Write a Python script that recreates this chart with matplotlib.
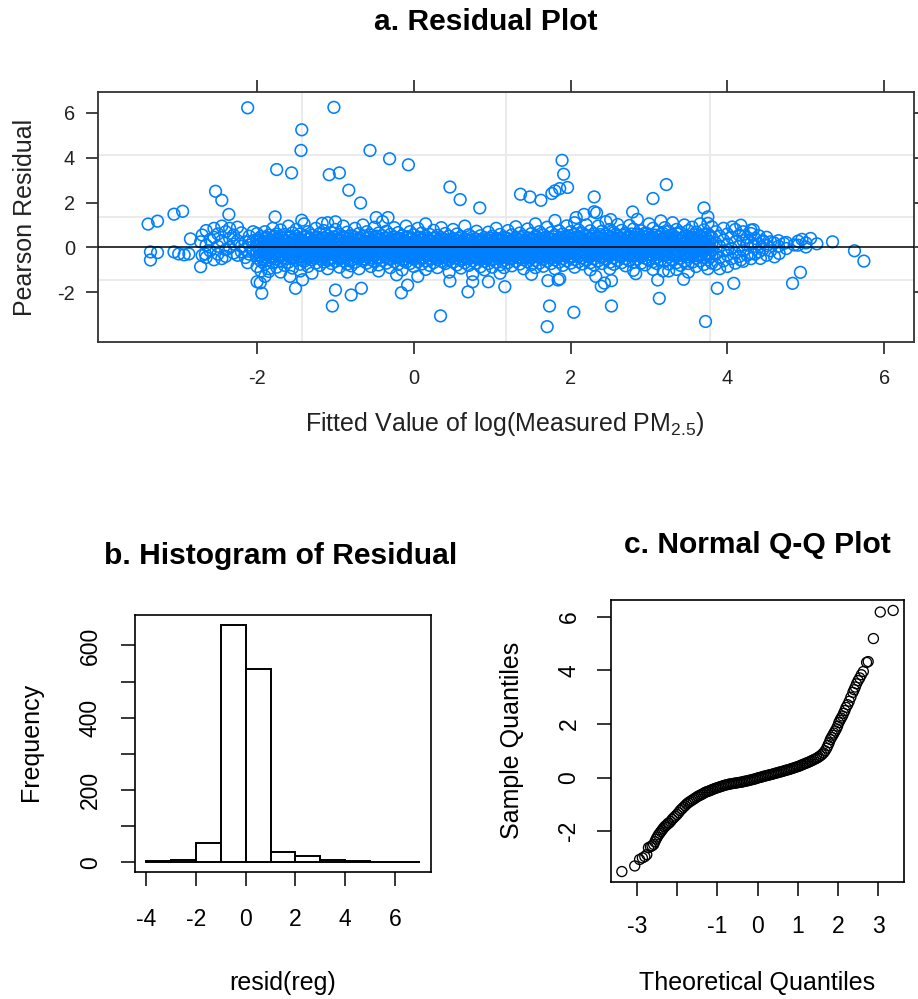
import matplotlib.pyplot as plt
import numpy as np

plt.rcParams["font.family"] = ["Liberation Sans", "DejaVu Sans"]
plt.rcParams["mathtext.fontset"] = "custom"
plt.rcParams["mathtext.rm"] = "Liberation Sans"
plt.rcParams["mathtext.it"] = "Liberation Sans:italic"
plt.rcParams["axes.unicode_minus"] = False

# a. Residual plot -- isolated points
outlier_fitted = [
    -2.12, -1.02, -1.43, -1.44, -1.75, -1.56, -1.08, -0.95, -0.56, -0.31, -0.07, -0.83, -0.68,
    -2.53, -2.45, -2.36, -3.39, -3.27, -3.06, -2.95, -2.85, -2.72, -3.36, -3.36, -3.27, -3.06,
    -3.00, -2.93, -2.87, -2.72, -2.66, -2.12, -2.00, -1.94, -1.96, -1.90, -1.85, -1.77, -1.58,
    -1.51, -1.42, -1.00, -1.04, -0.80, -0.67, -0.16, -0.08, 0.05, -0.22, 0.34, 0.46, 0.59,
    0.46, -0.48, -0.33, -1.00, -1.17, -1.43,
    1.89, 1.91, 1.96, 1.86, 1.80, 1.76, 1.62, 1.48, 1.36, 2.30, 3.05, 3.22, 3.70, 3.75, 3.75,
    2.79, 2.30, 2.33, 2.17, 2.07, 2.51, 0.84,
    5.34, 5.62, 5.74, 4.83, 4.93, 4.08, 3.87, 3.72, 3.13, 3.11, 3.44, 2.52, 2.04, 1.73, 1.70,
    1.71, 1.84, 1.86, 1.16, 0.95, 0.69, 0.75, 2.32, 2.43, 2.52, 2.39, 1.50, 2.83, 3.18, 3.35,
    4.30, 4.17, 5.06, 4.95, 5.14, 4.85, 4.72, 4.59, 4.46, 4.42, 4.60, 4.66, 4.30, 4.00, 4.17,
    4.06, 4.33,
]
outlier_resid = [
    6.22, 6.24, 5.24, 4.32, 3.47, 3.32, 3.24, 3.32, 4.32, 3.95, 3.68, 2.55, 1.98,
    2.50, 2.10, 1.47, 1.04, 1.17, 1.48, 1.61, 0.38, 0.25, -0.20, -0.56, -0.23, -0.20,
    -0.29, -0.33, -0.29, -0.86, -0.29, -0.68, -1.53, -2.04, -1.58, -1.29, -1.07, 1.36, -1.29,
    -1.82, -1.44, -1.90, -2.61, -2.12, -1.82, -2.02, -1.68, -1.29, -1.22, -3.05, 2.69, 2.13,
    -1.50, 1.33, 1.33, 1.14, 1.07, 1.21,
    3.88, 3.26, 2.67, 2.62, 2.52, 2.40, 2.10, 2.25, 2.37, 2.25, 2.18, 2.80, 1.76, 1.36, 1.07,
    1.58, 1.59, 1.54, 1.47, 1.33, 1.24, 1.76,
    0.25, -0.15, -0.61, -1.60, -1.11, -1.60, -1.82, -3.30, -2.27, -1.45, -1.42, -2.61, -2.89, -2.61, -3.53,
    -1.48, -1.45, -1.40, -1.75, -1.53, -1.98, -1.53, -1.29, -1.59, -1.48, -1.73, -1.20, -1.17, -1.05, -0.98,
    0.77, 0.99, 0.40, 0.36, 0.16, 0.11, 0.18, 0.21, 0.25, -0.49, -0.42, -0.27, -0.27, -0.12, -0.56,
    0.91, 0.79,
]

# a. Residual plot -- dense band: fitted value, residuals seen at that value
band_columns = [
    (-2.70, [0.55, -0.35]), (-2.65, [0.75, 0.10, -0.45]), (-2.60, [0.35, -0.15]),
    (-2.55, [0.85, 0.45, -0.55]), (-2.50, [0.60, 0.05, -0.30]), (-2.45, [0.95, 0.30, -0.50]),
    (-2.40, [0.70, -0.10, -0.40]), (-2.35, [0.85, 0.40, 0.00]), (-2.30, [0.55, 0.15, -0.25]),
    (-2.25, [0.90, 0.30, -0.35]), (-2.20, [0.65, 0.05, -0.20]), (-2.15, [0.25, -0.10, -0.45]),
    (-2.10, [0.50, 0.10, -0.30]), (-2.05, [0.70, 0.30, -0.15]),
    (-2.00, [0.62, 0.31, 0.05, -0.22, -0.48, -0.85]),
    (-1.95, [0.48, 0.18, -0.10, -0.35, -0.62, -1.05]),
    (-1.90, [0.70, 0.40, 0.12, -0.15, -0.42, -0.75]),
    (-1.85, [0.55, 0.25, -0.02, -0.28, -0.55, -0.95]),
    (-1.80, [0.85, 0.45, 0.15, -0.12, -0.38, -0.68]),
    (-1.75, [0.60, 0.30, 0.02, -0.25, -0.52, -0.88]),
    (-1.70, [0.78, 0.48, 0.20, -0.08, -0.33, -0.62, -1.10]),
    (-1.65, [0.58, 0.28, 0.00, -0.20, -0.45, -0.80]),
    (-1.60, [0.95, 0.42, 0.14, -0.12, -0.38, -0.66]),
    (-1.55, [0.65, 0.32, 0.06, -0.18, -0.50, -0.92]),
    (-1.50, [0.80, 0.50, 0.22, -0.05, -0.30, -0.58]),
    (-1.45, [0.60, 0.35, 0.10, -0.15, -0.42, -0.75, -1.05]),
    (-1.40, [1.05, 0.45, 0.18, -0.08, -0.34, -0.62]),
    (-1.35, [0.70, 0.38, 0.08, -0.20, -0.48, -0.85]),
    (-1.30, [0.55, 0.26, 0.00, -0.26, -0.55, -1.15]),
    (-1.25, [0.85, 0.45, 0.16, -0.10, -0.38, -0.70]),
    (-1.20, [0.62, 0.33, 0.05, -0.22, -0.50, -0.80]),
    (-1.15, [0.75, 0.42, 0.12, -0.14, -0.40, -0.65]),
    (-1.10, [1.10, 0.52, 0.22, -0.04, -0.30, -0.58, -0.95]),
    (-1.05, [0.66, 0.35, 0.08, -0.18, -0.45, -0.72]),
    (-1.00, [0.80, 0.46, 0.17, -0.10, -0.36, -0.62]),
    (-0.95, [0.58, 0.30, 0.03, -0.24, -0.52, -0.88]),
    (-0.90, [0.95, 0.48, 0.20, -0.06, -0.32, -0.60]),
    (-0.85, [0.68, 0.38, 0.10, -0.16, -0.44, -0.75, -1.10]),
    (-0.80, [0.52, 0.25, -0.02, -0.28, -0.56, -0.82]),
    (-0.75, [0.85, 0.44, 0.15, -0.12, -0.38, -0.66]),
    (-0.70, [0.62, 0.32, 0.06, -0.20, -0.48, -0.95]),
    (-0.65, [1.00, 0.50, 0.20, -0.06, -0.34, -0.60]),
    (-0.60, [0.70, 0.40, 0.12, -0.14, -0.42, -0.70]),
    (-0.55, [0.55, 0.28, 0.00, -0.26, -0.54, -0.85]),
    (-0.50, [0.90, 0.46, 0.18, -0.08, -0.36, -0.64]),
    (-0.45, [0.64, 0.34, 0.07, -0.20, -0.46, -0.78, -1.05]),
    (-0.40, [1.15, 0.52, 0.22, -0.04, -0.30, -0.58]),
    (-0.35, [0.72, 0.40, 0.12, -0.15, -0.42, -0.70]),
    (-0.30, [0.58, 0.30, 0.03, -0.24, -0.52, -0.90]),
    (-0.25, [0.88, 0.46, 0.17, -0.10, -0.37, -0.64]),
    (-0.20, [0.66, 0.36, 0.08, -0.18, -0.46, -0.75]),
    (-0.15, [0.52, 0.26, -0.02, -0.28, -0.56, -1.00]),
    (-0.10, [0.95, 0.44, 0.15, -0.12, -0.38, -0.66]),
    (-0.05, [0.70, 0.38, 0.10, -0.16, -0.44, -0.72]),
    (0.00, [0.56, 0.28, 0.02, -0.25, -0.52, -0.85]),
    (0.05, [0.85, 0.42, 0.14, -0.12, -0.38, -0.64]),
    (0.10, [0.64, 0.34, 0.06, -0.20, -0.46, -0.74]),
    (0.15, [1.05, 0.50, 0.20, -0.06, -0.32, -0.60, -0.98]),
    (0.20, [0.58, 0.30, 0.04, -0.22, -0.50, -0.80]),
    (0.25, [0.76, 0.40, 0.12, -0.14, -0.40, -0.68]),
    (0.30, [0.54, 0.26, 0.00, -0.26, -0.54, -0.90]),
    (0.35, [0.88, 0.44, 0.16, -0.10, -0.36, -0.62]),
    (0.40, [0.62, 0.34, 0.08, -0.18, -0.44, -0.72]),
    (0.45, [0.50, 0.24, -0.02, -0.28, -0.56, -1.10]),
    (0.50, [0.80, 0.40, 0.13, -0.13, -0.40, -0.66]),
    (0.55, [0.60, 0.31, 0.05, -0.21, -0.48, -0.78]),
    (0.60, [0.48, 0.22, -0.04, -0.30, -0.58, -0.92]),
    (0.65, [0.95, 0.38, 0.11, -0.15, -0.42, -0.68]),
    (0.70, [0.56, 0.28, 0.02, -0.24, -0.50, -0.80]),
    (0.75, [0.45, 0.20, -0.06, -0.32, -0.60, -1.20]),
    (0.80, [0.72, 0.36, 0.09, -0.17, -0.44, -0.70]),
    (0.85, [0.52, 0.26, 0.00, -0.26, -0.54, -0.86]),
    (0.90, [0.44, 0.18, -0.07, -0.34, -0.62, -1.00]),
    (0.95, [0.68, 0.34, 0.08, -0.18, -0.45, -0.72]),
    (1.00, [0.50, 0.24, -0.01, -0.27, -0.55, -0.88]),
    (1.05, [0.85, 0.40, 0.13, -0.13, -0.40, -0.66]),
    (1.10, [0.58, 0.30, 0.04, -0.22, -0.48, -0.78, -1.15]),
    (1.15, [0.46, 0.20, -0.05, -0.31, -0.58, -0.90]),
    (1.20, [0.75, 0.38, 0.11, -0.15, -0.42, -0.68]),
    (1.25, [0.56, 0.28, 0.02, -0.24, -0.50, -0.82]),
    (1.30, [0.92, 0.44, 0.16, -0.10, -0.36, -0.62]),
    (1.35, [0.64, 0.34, 0.07, -0.19, -0.46, -0.74]),
    (1.40, [0.50, 0.24, -0.02, -0.28, -0.55, -0.95]),
    (1.45, [0.82, 0.42, 0.14, -0.12, -0.38, -0.64]),
    (1.50, [0.62, 0.33, 0.06, -0.20, -0.47, -0.76]),
    (1.55, [1.05, 0.50, 0.20, -0.06, -0.32, -0.58, -0.90]),
    (1.60, [0.70, 0.38, 0.10, -0.16, -0.43, -0.70]),
    (1.65, [0.56, 0.28, 0.01, -0.25, -0.52, -0.84]),
    (1.70, [0.90, 0.46, 0.17, -0.09, -0.35, -0.62]),
    (1.75, [0.66, 0.36, 0.08, -0.18, -0.45, -0.72]),
    (1.80, [1.20, 0.55, 0.24, -0.03, -0.29, -0.56, -0.95]),
    (1.85, [0.74, 0.40, 0.12, -0.14, -0.40, -0.66]),
    (1.90, [0.60, 0.30, 0.03, -0.23, -0.50, -0.80]),
    (1.95, [0.96, 0.48, 0.19, -0.07, -0.33, -0.60]),
    (2.00, [0.70, 0.38, 0.10, -0.16, -0.42, -0.70]),
    (2.05, [1.10, 0.58, 0.26, -0.01, -0.27, -0.54, -0.88]),
    (2.10, [0.78, 0.44, 0.15, -0.11, -0.37, -0.64]),
    (2.15, [0.64, 0.34, 0.06, -0.20, -0.46, -0.74]),
    (2.20, [1.00, 0.52, 0.22, -0.05, -0.31, -0.58]),
    (2.25, [0.74, 0.40, 0.12, -0.14, -0.40, -0.68, -1.00]),
    (2.30, [0.60, 0.30, 0.03, -0.23, -0.50, -0.78]),
    (2.35, [0.95, 0.48, 0.18, -0.08, -0.34, -0.60]),
    (2.40, [0.72, 0.38, 0.10, -0.16, -0.43, -0.72]),
    (2.45, [1.15, 0.58, 0.26, -0.01, -0.27, -0.54]),
    (2.50, [0.80, 0.44, 0.15, -0.11, -0.37, -0.66, -0.95]),
    (2.55, [0.66, 0.34, 0.06, -0.20, -0.46, -0.75]),
    (2.60, [1.02, 0.52, 0.22, -0.05, -0.31, -0.58]),
    (2.65, [0.76, 0.40, 0.12, -0.14, -0.40, -0.68]),
    (2.70, [0.62, 0.30, 0.03, -0.23, -0.50, -0.82]),
    (2.75, [0.98, 0.50, 0.19, -0.07, -0.33, -0.60]),
    (2.80, [0.82, 0.44, 0.14, -0.12, -0.38, -0.65, -1.02]),
    (2.85, [1.25, 0.60, 0.27, 0.00, -0.26, -0.52]),
    (2.90, [0.74, 0.38, 0.10, -0.16, -0.42, -0.70]),
    (2.95, [0.64, 0.32, 0.04, -0.22, -0.48, -0.78]),
    (3.00, [1.05, 0.55, 0.22, -0.05, -0.31, -0.58]),
    (3.05, [0.85, 0.46, 0.15, -0.11, -0.37, -0.64, -0.98]),
    (3.10, [0.70, 0.36, 0.08, -0.18, -0.44, -0.72]),
    (3.15, [1.18, 0.58, 0.25, -0.02, -0.28, -0.55]),
    (3.20, [0.88, 0.46, 0.16, -0.10, -0.36, -0.62]),
    (3.25, [0.72, 0.38, 0.09, -0.17, -0.43, -0.74, -1.05]),
    (3.30, [1.10, 0.55, 0.22, -0.05, -0.31, -0.58]),
    (3.35, [0.80, 0.42, 0.13, -0.13, -0.40, -0.68]),
    (3.40, [0.66, 0.33, 0.05, -0.21, -0.48, -0.80]),
    (3.45, [1.00, 0.50, 0.19, -0.08, -0.34, -0.62]),
    (3.50, [0.75, 0.40, 0.11, -0.15, -0.42, -0.72, -1.10]),
    (3.55, [0.90, 0.46, 0.16, -0.10, -0.38, -0.66]),
    (3.60, [0.68, 0.34, 0.06, -0.20, -0.48, -0.85]),
    (3.65, [1.05, 0.52, 0.20, -0.06, -0.34, -0.60]),
    (3.70, [0.78, 0.40, 0.10, -0.16, -0.44, -0.76]),
    (3.75, [0.60, 0.28, 0.00, -0.26, -0.55, -0.95]),
    (3.80, [0.92, 0.45, 0.14, -0.12, -0.40, -0.70]),
    (3.85, [0.70, 0.20, -0.30, -0.75]), (3.90, [0.50, 0.05, -0.45, -0.95]),
    (3.95, [0.85, 0.32, -0.15, -0.60]), (4.00, [0.60, 0.15, -0.35, -0.85]),
    (4.05, [0.45, -0.05, -0.50]), (4.10, [0.80, 0.25, -0.25, -0.70]),
    (4.15, [0.55, 0.05, -0.40]), (4.20, [0.70, 0.30, -0.15, -0.62]),
    (4.25, [0.45, 0.10, -0.35]), (4.30, [0.62, 0.20, -0.50]),
    (4.35, [0.40, 0.05, -0.30]), (4.40, [0.52, 0.15, -0.20]),
    (4.45, [0.30, -0.10]), (4.50, [0.45, 0.08, -0.35]), (4.55, [0.25, -0.15]),
    (4.65, [0.30, 0.05]), (4.75, [0.22, -0.05]), (4.90, [0.28, 0.10]), (5.00, [0.20, 0.02]),
]

# a. Residual plot -- core of the band, between the columns above
core_columns = [
    (-1.975, [0.40, 0.14, -0.12, -0.38]), (-1.925, [0.28, 0.02, -0.26, -0.52]),
    (-1.875, [0.44, 0.18, -0.08, -0.34]), (-1.825, [0.32, 0.06, -0.20, -0.46]),
    (-1.775, [0.50, 0.22, -0.04, -0.30]), (-1.725, [0.36, 0.10, -0.16, -0.44]),
    (-1.675, [0.42, 0.15, -0.10, -0.36]), (-1.625, [0.30, 0.04, -0.24, -0.50]),
    (-1.575, [0.46, 0.20, -0.06, -0.32]), (-1.525, [0.34, 0.08, -0.18, -0.45]),
    (-1.475, [0.40, 0.13, -0.13, -0.40]), (-1.425, [0.27, 0.01, -0.27, -0.54]),
    (-1.375, [0.48, 0.21, -0.05, -0.31]), (-1.325, [0.38, 0.11, -0.15, -0.42]),
    (-1.275, [0.31, 0.05, -0.22, -0.48]), (-1.225, [0.45, 0.19, -0.07, -0.33]),
    (-1.175, [0.35, 0.09, -0.17, -0.44]), (-1.125, [0.41, 0.14, -0.11, -0.37]),
    (-1.075, [0.29, 0.03, -0.25, -0.51]), (-1.025, [0.47, 0.20, -0.06, -0.32]),
    (-0.975, [0.37, 0.11, -0.16, -0.43]), (-0.925, [0.33, 0.07, -0.19, -0.46]),
    (-0.875, [0.44, 0.17, -0.09, -0.35]), (-0.825, [0.30, 0.04, -0.23, -0.50]),
    (-0.775, [0.49, 0.22, -0.04, -0.30]), (-0.725, [0.36, 0.10, -0.17, -0.44]),
    (-0.675, [0.40, 0.14, -0.12, -0.38]), (-0.625, [0.28, 0.02, -0.26, -0.52]),
    (-0.575, [0.44, 0.18, -0.08, -0.34]), (-0.525, [0.32, 0.06, -0.20, -0.46]),
    (-0.475, [0.50, 0.22, -0.04, -0.30]), (-0.425, [0.36, 0.10, -0.16, -0.44]),
    (-0.375, [0.42, 0.15, -0.10, -0.36]), (-0.325, [0.30, 0.04, -0.24, -0.50]),
    (-0.275, [0.46, 0.20, -0.06, -0.32]), (-0.225, [0.34, 0.08, -0.18, -0.45]),
    (-0.175, [0.40, 0.13, -0.13, -0.40]), (-0.125, [0.27, 0.01, -0.27, -0.54]),
    (-0.075, [0.48, 0.21, -0.05, -0.31]), (-0.025, [0.38, 0.11, -0.15, -0.42]),
    (0.025, [0.31, 0.05, -0.22, -0.48]), (0.075, [0.45, 0.19, -0.07, -0.33]),
    (0.125, [0.35, 0.09, -0.17, -0.44]), (0.175, [0.41, 0.14, -0.11, -0.37]),
    (0.225, [0.29, 0.03, -0.25, -0.51]), (0.275, [0.43, 0.17, -0.09, -0.35]),
    (0.325, [0.33, 0.07, -0.19, -0.46]), (0.375, [0.38, 0.12, -0.14, -0.40]),
    (0.425, [0.28, 0.02, -0.24, -0.50]), (0.475, [0.36, 0.10, -0.16, -0.42]),
    (0.525, [0.30, 0.05, -0.21, -0.47]), (0.575, [0.40, 0.14, -0.12, -0.38]),
    (0.625, [0.27, 0.01, -0.26, -0.52]), (0.675, [0.35, 0.09, -0.17, -0.43]),
    (0.725, [0.31, 0.05, -0.21, -0.47]), (0.775, [0.38, 0.12, -0.14, -0.40]),
    (0.825, [0.28, 0.03, -0.23, -0.49]), (0.875, [0.36, 0.10, -0.16, -0.42]),
    (0.925, [0.30, 0.05, -0.21, -0.46]), (0.975, [0.40, 0.14, -0.12, -0.38]),
    (1.025, [0.29, 0.03, -0.24, -0.50]), (1.075, [0.37, 0.11, -0.15, -0.41]),
    (1.125, [0.32, 0.06, -0.20, -0.46]), (1.175, [0.42, 0.16, -0.10, -0.36]),
    (1.225, [0.30, 0.04, -0.22, -0.48]), (1.275, [0.39, 0.13, -0.13, -0.39]),
    (1.325, [0.34, 0.08, -0.18, -0.44]), (1.375, [0.44, 0.18, -0.08, -0.34]),
    (1.425, [0.31, 0.05, -0.21, -0.47]), (1.475, [0.41, 0.15, -0.11, -0.37]),
    (1.525, [0.36, 0.10, -0.16, -0.42]), (1.575, [0.46, 0.20, -0.06, -0.32]),
    (1.625, [0.33, 0.07, -0.19, -0.45]), (1.675, [0.43, 0.17, -0.09, -0.35]),
    (1.725, [0.38, 0.12, -0.14, -0.40]), (1.775, [0.48, 0.22, -0.04, -0.30]),
    (1.825, [0.35, 0.09, -0.17, -0.43]), (1.875, [0.45, 0.19, -0.07, -0.33]),
    (1.925, [0.40, 0.14, -0.12, -0.38]), (1.975, [0.52, 0.25, -0.02, -0.28]),
    (2.025, [0.37, 0.11, -0.15, -0.41]), (2.075, [0.47, 0.21, -0.05, -0.31]),
    (2.125, [0.42, 0.16, -0.10, -0.36]), (2.175, [0.55, 0.28, 0.01, -0.26]),
    (2.225, [0.39, 0.13, -0.13, -0.39]), (2.275, [0.49, 0.23, -0.03, -0.29]),
    (2.325, [0.44, 0.18, -0.08, -0.34]), (2.375, [0.57, 0.30, 0.03, -0.24]),
    (2.425, [0.41, 0.15, -0.11, -0.37]), (2.475, [0.51, 0.25, -0.01, -0.27]),
    (2.525, [0.46, 0.20, -0.06, -0.32]), (2.575, [0.58, 0.31, 0.04, -0.23]),
    (2.625, [0.43, 0.17, -0.09, -0.35]), (2.675, [0.53, 0.27, 0.01, -0.25]),
    (2.725, [0.47, 0.21, -0.05, -0.31]), (2.775, [0.60, 0.33, 0.06, -0.21]),
    (2.825, [0.44, 0.18, -0.08, -0.34]), (2.875, [0.54, 0.28, 0.02, -0.24]),
    (2.925, [0.48, 0.22, -0.04, -0.30]), (2.975, [0.62, 0.35, 0.08, -0.19]),
    (3.025, [0.45, 0.19, -0.07, -0.33]), (3.075, [0.55, 0.29, 0.03, -0.23]),
    (3.125, [0.49, 0.23, -0.03, -0.29]), (3.175, [0.63, 0.36, 0.09, -0.18]),
    (3.225, [0.44, 0.18, -0.08, -0.34]), (3.275, [0.54, 0.28, 0.02, -0.24]),
    (3.325, [0.47, 0.21, -0.05, -0.31]), (3.375, [0.60, 0.33, 0.06, -0.21]),
    (3.425, [0.42, 0.16, -0.10, -0.36]), (3.475, [0.51, 0.25, -0.01, -0.27]),
    (3.525, [0.45, 0.19, -0.07, -0.33]), (3.575, [0.56, 0.29, 0.02, -0.25]),
    (3.625, [0.40, 0.14, -0.12, -0.38]), (3.675, [0.48, 0.22, -0.04, -0.30]),
    (3.725, [0.43, 0.17, -0.09, -0.35]), (3.775, [0.52, 0.25, -0.02, -0.28]),
]

# b. Histogram of residual
hist_breaks = [-4, -3, -2, -1, 0, 1, 2, 3, 4, 5, 6, 7]
hist_counts = [4, 8, 53, 658, 536, 30, 17, 8, 3, 1, 2]

# c. Normal Q-Q plot (theoretical quantile, sample quantile)
qq_theoretical = [
    -3.37, -3.05, -2.93, -2.86, -2.80, -2.75, -2.71, -2.66, -2.62, -2.58, -2.55, -2.52, -2.49,
    -2.46, -2.43, -2.40, -2.37, -2.34, -2.31, -2.28, -2.25, -2.22,
    -2.20, -2.16, -2.12, -2.08, -2.04, -2.00, -1.96, -1.92, -1.88, -1.84, -1.80, -1.76, -1.72,
    -1.68, -1.64, -1.60, -1.56, -1.52, -1.48, -1.44, -1.40, -1.36, -1.32, -1.28, -1.24, -1.20,
    -1.16, -1.12, -1.08, -1.04, -1.00, -0.96, -0.92, -0.88, -0.84, -0.80, -0.76, -0.72, -0.68,
    -0.64, -0.60, -0.56, -0.52, -0.48, -0.44, -0.40, -0.36, -0.32, -0.28, -0.24, -0.20, -0.16,
    -0.12, -0.08, -0.04, 0.00, 0.04, 0.08, 0.12, 0.16, 0.20, 0.24, 0.28, 0.32, 0.36, 0.40,
    0.44, 0.48, 0.52, 0.56, 0.60, 0.64, 0.68, 0.72, 0.76, 0.80, 0.84, 0.88, 0.92, 0.96, 1.00,
    1.04, 1.08, 1.12, 1.16, 1.20, 1.24, 1.28, 1.32, 1.36, 1.40, 1.44, 1.48, 1.52, 1.56, 1.60,
    1.64, 1.68, 1.72, 1.75, 1.78, 1.81, 1.84, 1.87, 1.90, 1.93, 1.96, 1.99, 2.02, 2.05, 2.08,
    2.11, 2.14, 2.17, 2.20, 2.24, 2.28, 2.32, 2.37, 2.40, 2.43, 2.46, 2.50, 2.54, 2.58, 2.63,
    2.71, 2.75, 2.88, 3.05, 3.37,
]
qq_sample = [
    -3.51, -3.30, -3.06, -3.00, -2.95, -2.88, -2.62, -2.58, -2.55, -2.50, -2.40, -2.30, -2.22,
    -2.14, -2.08, -2.02, -1.96, -1.90, -1.84, -1.80, -1.76, -1.71,
    -1.70, -1.64, -1.56, -1.50, -1.44, -1.38, -1.31, -1.23, -1.17, -1.11, -1.05, -0.99, -0.94,
    -0.90, -0.86, -0.82, -0.78, -0.74, -0.70, -0.67, -0.64, -0.61, -0.57, -0.54, -0.52, -0.50,
    -0.47, -0.45, -0.42, -0.40, -0.38, -0.36, -0.34, -0.32, -0.30, -0.28, -0.27, -0.25, -0.24,
    -0.23, -0.22, -0.21, -0.20, -0.19, -0.18, -0.17, -0.16, -0.14, -0.13, -0.12, -0.10, -0.09,
    -0.07, -0.06, -0.04, -0.02, 0.00, 0.01, 0.03, 0.05, 0.06, 0.08, 0.09, 0.11, 0.12, 0.14,
    0.16, 0.17, 0.19, 0.21, 0.22, 0.24, 0.26, 0.28, 0.29, 0.31, 0.33, 0.35, 0.37, 0.39, 0.41,
    0.43, 0.46, 0.48, 0.51, 0.53, 0.56, 0.58, 0.61, 0.64, 0.67, 0.70, 0.73, 0.77, 0.81, 0.86,
    0.92, 1.00, 1.10, 1.20, 1.30, 1.42, 1.50, 1.58, 1.66, 1.74, 1.82, 1.92, 2.05, 2.14, 2.22,
    2.30, 2.40, 2.50, 2.62, 2.72, 2.85, 3.00, 3.18, 3.28, 3.38, 3.50, 3.62, 3.72, 3.84, 3.96,
    4.30, 4.33, 5.19, 6.18, 6.24,
]

fitted = list(outlier_fitted)
resid = list(outlier_resid)
for col_x, ys in band_columns + core_columns:
    fitted += [col_x] * len(ys)
    resid += ys
fitted = np.array(fitted)
resid = np.array(resid)

W, H = 918, 999
fig = plt.figure(figsize=(W / 100, H / 100), dpi=100)


def px_box(left, top, right, bottom):
    return [left / W, 1 - bottom / H, (right - left) / W, (bottom - top) / H]


def px_text(x, y, s, **kw):
    fig.text(x / W, 1 - y / H, s, **kw)


def padded(lo, hi, frac):
    d = (hi - lo) * frac
    return lo - d, hi + d


# ---- a. Residual Plot (lattice style)
ax = fig.add_axes(px_box(98, 92, 914, 342))
xl = padded(fitted.min(), fitted.max(), 0.07)
yl = padded(resid.min(), resid.max(), 0.07)
ax.set_xlim(xl)
ax.set_ylim(yl)
for i in (1, 2, 3):
    ax.axvline(xl[0] + i * (xl[1] - xl[0]) / 4, color="#e6e6e6", lw=1.1, zorder=0)
    ax.axhline(yl[0] + i * (yl[1] - yl[0]) / 4, color="#e6e6e6", lw=1.1, zorder=0)
ax.scatter(fitted, resid, s=8.4 ** 2, facecolors="none", edgecolors="#0080ff",
           linewidths=1.15, zorder=2)
ax.axhline(0, color="black", lw=1.1, zorder=3)
ax.set_xticks([-2, 0, 2, 4, 6])
ax.set_yticks([-2, 0, 2, 4, 6])
ax.tick_params(direction="out", length=8.6, width=1.2, top=True, right=True,
               labeltop=False, labelright=False, labelsize=14.4, pad=8, colors="#222222")
ax.tick_params(axis="x", pad=11)
for s in ax.spines.values():
    s.set_linewidth(1.3)
    s.set_color("#333333")

px_text(486, 30, "a. Residual Plot", ha="center", va="baseline", fontsize=21.6, fontweight="bold")
px_text(505, 431, "Fitted Value of log(Measured PM$_{2.5}$)", ha="center", va="baseline",
        fontsize=18, color="#222222")
px_text(25, 217, "Pearson Residual", ha="center", va="center", rotation=90, fontsize=18,
        color="#222222")

# ---- b. Histogram of Residual (base R style)
axh = fig.add_axes(px_box(135, 615, 431, 872))
axh.bar(hist_breaks[:-1], hist_counts, width=np.diff(hist_breaks), align="edge",
        facecolor="white", edgecolor="black", linewidth=1.4)
axh.set_xlim(padded(hist_breaks[0], hist_breaks[-1], 0.04))
axh.set_ylim(padded(0, max(hist_counts), 0.04))
axh.set_xticks([-4, -2, 0, 2, 4, 6])
yt = list(range(0, 700, 100))
axh.set_yticks(yt)
axh.set_yticklabels([str(v) if v % 200 == 0 else "" for v in yt], rotation=90, va="center")
axh.tick_params(direction="out", length=10, width=1.1, labelsize=16.5, pad=14)
axh.tick_params(axis="x", pad=16)
for s in axh.spines.values():
    s.set_linewidth(1.2)

px_text(281, 564, "b. Histogram of Residual", ha="center", va="baseline", fontsize=21.6,
        fontweight="bold")
px_text(283, 990, "resid(reg)", ha="center", va="baseline", fontsize=18)
px_text(31, 742, "Frequency", ha="center", va="center", rotation=90, fontsize=18)

# ---- c. Normal Q-Q Plot
axq = fig.add_axes(px_box(611, 600, 904, 882))
axq.scatter(qq_theoretical, qq_sample, s=7.2 ** 2, facecolors="none", edgecolors="black",
            linewidths=0.95)
axq.set_xlim(padded(min(qq_theoretical), max(qq_theoretical), 0.04))
axq.set_ylim(padded(min(qq_sample), max(qq_sample), 0.04))
xt = [-3, -2, -1, 0, 1, 2, 3]
axq.set_xticks(xt)
axq.set_xticklabels(["" if v == -2 else str(v) for v in xt])
axq.set_yticks([-2, 0, 2, 4, 6])
axq.set_yticklabels(["-2", "0", "2", "4", "6"], rotation=90, va="center")
axq.tick_params(direction="out", length=10, width=1.1, labelsize=16.5, pad=12)
axq.tick_params(axis="x", pad=14)
for s in axq.spines.values():
    s.set_linewidth(1.2)

px_text(757, 553, "c. Normal Q-Q Plot", ha="center", va="baseline", fontsize=21.6,
        fontweight="bold")
px_text(757, 990, "Theoretical Quantiles", ha="center", va="baseline", fontsize=18)
px_text(512, 740, "Sample Quantiles", ha="center", va="center", rotation=90, fontsize=18)

fig.savefig("out.png", dpi=100)
